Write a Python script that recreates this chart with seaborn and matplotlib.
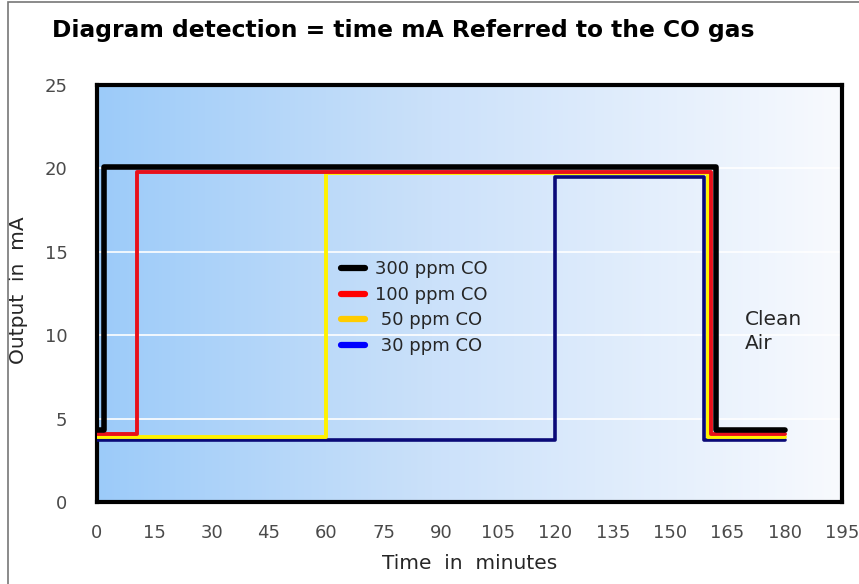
import numpy as np
import pandas as pd
import matplotlib
matplotlib.use("Agg")
import matplotlib.pyplot as plt
from matplotlib.lines import Line2D
from matplotlib.colors import LinearSegmentedColormap
import seaborn as sns

sns.set_style("white")
plt.rcParams["font.family"] = ["DejaVu Sans"]

# step points (time in minutes, output in mA), drawn as steps-post
labels = ["300 ppm CO", "100 ppm CO", " 50 ppm CO", " 30 ppm CO"]
t_300 = [0, 1.8, 162, 180]
y_300 = [4.3, 20.1, 4.3, 4.3]
t_100 = [0, 10.5, 160.8, 180]
y_100 = [4.1, 19.8, 4.1, 4.1]
t_50 = [0, 60, 160, 180]
y_50 = [3.9, 19.7, 3.9, 3.9]
t_30 = [0, 120, 158.8, 180]
y_30 = [3.7, 19.5, 3.7, 3.7]
line_colors = ["#000000", "#E8101A", "#FFF200", "#0A0A78"]
legend_colors = ["#000000", "#FF0000", "#FFCC00", "#0000FF"]
line_widths = [4.0, 2.8, 2.8, 2.6]
x_ticks = list(range(0, 196, 15))
y_ticks = [0, 5, 10, 15, 20, 25]

series = [(t_300, y_300), (t_100, y_100), (t_50, y_50), (t_30, y_30)]

fig = plt.figure(figsize=(8.59, 5.84), dpi=100)
fig.patch.set_facecolor("white")
ax = fig.add_axes([97 / 859, (584 - 502) / 584, 745 / 859, 417 / 584])

# gradient background
cmap = LinearSegmentedColormap.from_list(
    "bg", [(0, "#9CCBF9"), (0.45, "#CBE1FA"), (1, "#F8FAFE")])
grad = np.linspace(0, 1, 256).reshape(1, -1)
ax.imshow(grad, extent=[0, 195, 0, 25], aspect="auto", cmap=cmap, zorder=0)

for yv in [5, 10, 15, 20]:
    ax.axhline(yv, color="white", lw=1.2, zorder=1)

# draw 30 ppm first so 300 ppm ends up on top
for i in [3, 2, 1, 0]:
    t, y = series[i]
    df = pd.DataFrame({"time": t, "mA": y})
    sns.lineplot(data=df, x="time", y="mA", ax=ax, estimator=None,
                 drawstyle="steps-post", color=line_colors[i],
                 lw=line_widths[i], zorder=3 + (3 - i))

ax.set_xlim(0, 195)
ax.set_ylim(0, 25)
ax.set_xticks(x_ticks)
ax.set_yticks(y_ticks)
ax.tick_params(axis="both", direction="out", length=7.2, width=1, color="black",
               labelsize=13, labelcolor="#4a4a4a")
ax.tick_params(axis="y", pad=14)
ax.tick_params(axis="x", pad=9)
for s in ax.spines.values():
    s.set_color("black")
    s.set_linewidth(3)
    s.set_visible(True)

ax.set_xlabel("Time  in  minutes", fontsize=14.5, labelpad=8)
ax.set_ylabel("Output  in  mA", fontsize=14.5)
ax.yaxis.set_label_coords(-0.093, 0.508)

handles = [Line2D([0], [0], color=c, lw=4.5) for c in legend_colors]
ax.legend(handles, labels, loc="upper left", bbox_to_anchor=(0.31, 0.61),
          frameon=False, fontsize=13, handlelength=1.35, handletextpad=0.55,
          labelspacing=0.42, borderpad=0.2)

ax.text(169.5, 10.2, "Clean\nAir", fontsize=14.5, va="center", ha="left",
        linespacing=1.35)

fig.text(52 / 859, 1 - 30 / 584, "Diagram detection = time mA Referred to the CO gas",
         fontsize=16.8, fontweight="bold", va="center", ha="left", color="black")

# outer frame
fig.patches.append(plt.Rectangle((8 / 859, -0.1), 1.2, 1.1 - 2 / 584,
                                 transform=fig.transFigure, fill=False,
                                 edgecolor="#777777", lw=1.2))

fig.savefig("out.png", dpi=100)
